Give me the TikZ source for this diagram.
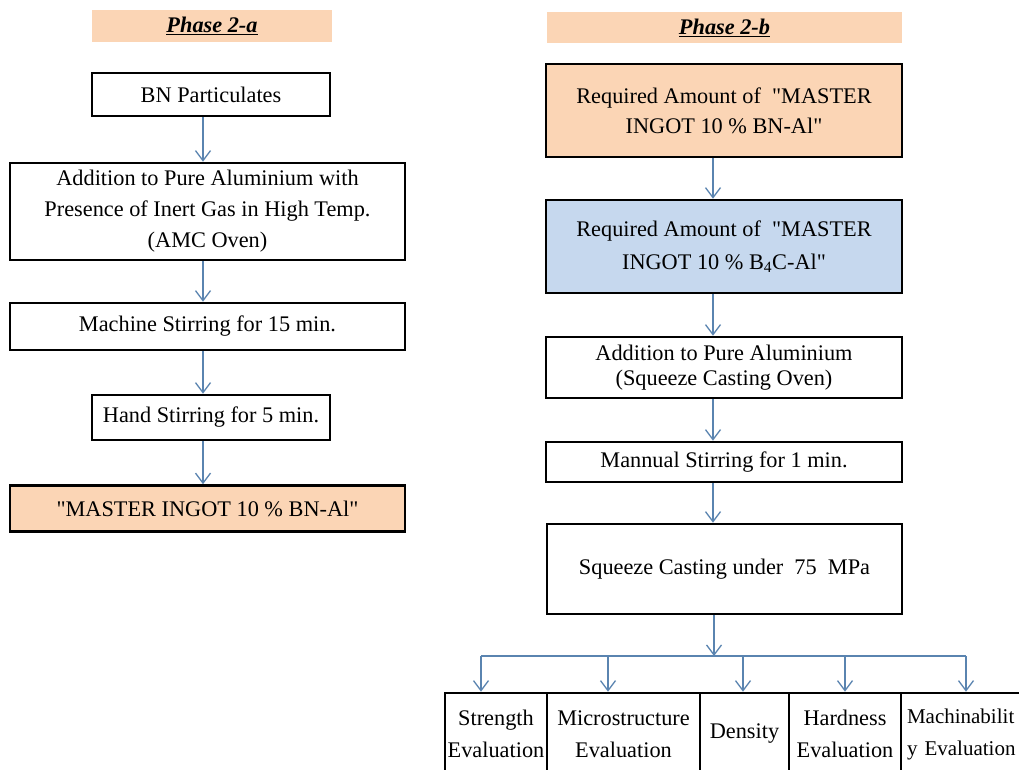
\documentclass[tikz,border=0pt]{standalone}
\usepackage{fontspec}
\setmainfont{Liberation Serif}
\usetikzlibrary{arrows.meta}
\definecolor{peach}{HTML}{FBD5B5}
\definecolor{lblue}{HTML}{C6D8EE}
\definecolor{arrowblue}{HTML}{5A84B0}
\newcommand{\qq}{\textquotedbl}
\begin{document}
\begin{tikzpicture}[x=1pt,y=-1pt,
  every node/.style={font=\fontsize{22.3}{28}\selectfont, align=center, inner sep=0pt},
  banner/.style={fill=peach, draw=none},
  box/.style={draw=black, line width=2.6pt, fill=white},
  pbox/.style={box, fill=peach},
  bbox/.style={box, fill=lblue},
  evalbox/.style={box, minimum height=82pt, font=\fontsize{22.3}{32}\selectfont},
  arr/.style={draw=arrowblue, line width=1.3pt, -{Straight Barb[length=10pt,width=15pt,line width=1.3pt]}},
  bus/.style={draw=arrowblue, line width=1.3pt}]
\useasboundingbox (0,0) rectangle (1019,769);
\clip (0,0) rectangle (1019,769);
\fill[white] (0,0) rectangle (1019,769);

% ---------- Phase 2-a ----------
\node[banner, minimum width=240pt, minimum height=32pt] (ha) at (212,26) {\underline{\textbf{\textit{Phase 2-a}}}};
\node[box, minimum width=238pt, minimum height=43pt] (bn) at (211,94.5) {BN Particulates};
\node[box, minimum width=395pt, minimum height=97pt, font=\fontsize{22.3}{31}\selectfont] (add) at (207.5,211.5) {Addition to Pure Aluminium with\\Presence of Inert Gas in High Temp.\\(AMC Oven)};
\node[box, minimum width=395pt, minimum height=47pt] (mach) at (207.5,326.5) {Machine Stirring for 15 min.};
\node[box, minimum width=238pt, minimum height=45pt] (hand) at (211,417.5) {Hand Stirring for 5 min.};
\node[pbox, minimum width=395pt, minimum height=46pt] (mia) at (207.5,508.5) {\qq MASTER INGOT 10 \% BN-Al\qq};

\coordinate (la) at (203,0);
\draw[arr] (la |- bn.south) -- (la |- add.north);
\draw[arr] (la |- add.south) -- (la |- mach.north);
\draw[arr] (la |- mach.south) -- (la |- hand.north);
\draw[arr] (la |- hand.south) -- (la |- mia.north);

% ---------- Phase 2-b ----------
\node[banner, minimum width=355pt, minimum height=31pt] (hb) at (724.5,27.5) {\underline{\textbf{\textit{Phase 2-b}}}};
\node[pbox, minimum width=356pt, minimum height=93pt, font=\fontsize{22.3}{30}\selectfont] (r1) at (724,110.5) {Required Amount of \ \qq MASTER\\INGOT 10 \% BN-Al\qq};
\node[bbox, minimum width=356pt, minimum height=93pt, font=\fontsize{22.3}{33}\selectfont] (r2) at (724,246.5) {Required Amount of \ \qq MASTER\\INGOT 10 \% B\textsubscript{4}C-Al\qq};
\node[box, minimum width=356pt, minimum height=61pt, font=\fontsize{22.3}{25}\selectfont] (r3) at (724,367.5) {Addition to Pure Aluminium\\(Squeeze Casting Oven)};
\node[box, minimum width=356pt, minimum height=40pt] (r4) at (724,462) {Mannual Stirring for 1 min.};
\node[box, minimum width=355pt, minimum height=90pt] (r5) at (724.5,569) {Squeeze Casting under \ 75 \ MPa};

\coordinate (ra) at (713,0);
\draw[arr] (ra |- r1.south) -- (ra |- r2.north);
\draw[arr] (ra |- r2.south) -- (ra |- r3.north);
\draw[arr] (ra |- r3.south) -- (ra |- r4.north);
\draw[arr] (ra |- r4.south) -- (ra |- r5.north);

% ---------- evaluations ----------
\node[evalbox, minimum width=102pt] (e1) at (496,734) {Strength\\Evaluation};
\node[evalbox, minimum width=153pt] (e2) at (623.5,734) {Microstructure\\Evaluation};
\node[evalbox, minimum width=89pt] (e3) at (744.5,734) {Density};
\node[evalbox, minimum width=112pt] (e4) at (845,734) {Hardness\\Evaluation};
\node[evalbox, minimum width=123pt, text width=111pt, inner xsep=6pt, align=left, font=\fontsize{21}{32}\selectfont] (e5) at (962.5,734) {Machinabilit\\y Evaluation};

\coordinate (hub) at (714,656);
\coordinate (b1) at (481,656);
\coordinate (b2) at (608,656);
\coordinate (b3) at (743,656);
\coordinate (b4) at (845,656);
\coordinate (b5) at (966,656);
\draw[arr] (hub |- r5.south) -- (hub);
\draw[bus] (b1) -- (b5);
\draw[arr] (b1) -- (b1 |- e1.north);
\draw[arr] (b2) -- (b2 |- e2.north);
\draw[arr] (b3) -- (b3 |- e3.north);
\draw[arr] (b4) -- (b4 |- e4.north);
\draw[arr] (b5) -- (b5 |- e5.north);
\end{tikzpicture}
\end{document}
